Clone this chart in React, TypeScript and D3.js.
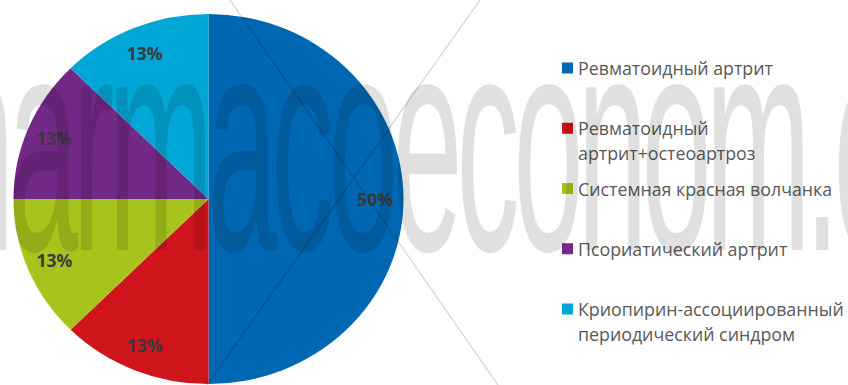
import React from "react";
import * as d3 from "d3";

// Patient counts by diagnosis
const categories = [
  "Ревматоидный артрит",
  "Ревматоидный артрит+остеоартроз",
  "Системная красная волчанка",
  "Псориатический артрит",
  "Криопирин-ассоциированный периодический синдром",
];
const counts = [4, 1, 1, 1, 1];
const legendLines = [
  ["Ревматоидный артрит"],
  ["Ревматоидный", "артрит+остеоартроз"],
  ["Системная красная волчанка"],
  ["Псориатический артрит"],
  ["Криопирин-ассоциированный", "периодический синдром"],
];
const colors = ["#0067B2", "#D0141C", "#A6C41B", "#722886", "#00A6D6"];
const watermarkText = "pharmacoeconom.com";

const W = 848;
const H = 385;

export default function App() {
  const cx = 208.5;
  const cy = 199;
  const R = 195;
  const sy = 185 / 195;

  const total = d3.sum(counts);
  const pie = d3
    .pie<number>()
    .sort(null)
    .value((d) => d)
    .startAngle(0)
    .endAngle(2 * Math.PI);
  const arcs = pie(counts);
  const arc = d3.arc<d3.PieArcDatum<number>>().innerRadius(0).outerRadius(R);
  const labelArc = d3
    .arc<d3.PieArcDatum<number>>()
    .innerRadius(R * 0.855)
    .outerRadius(R * 0.855);
  const fmt = d3.format(".0%");

  const legendX = 562;
  const legendY0 = 68;
  const legendStep = 60.25;
  const lineH = 25;

  return (
    <svg
      width={W}
      height={H}
      viewBox={`0 0 ${W} ${H}`}
      style={{ position: "absolute", left: 0, top: 0, background: "#fff" }}
    >
      <rect width={W} height={H} fill="#fff" />
      <g transform={`translate(${cx},${cy}) scale(1,${sy})`}>
        {arcs.map((a, i) => (
          <path key={categories[i]} d={arc(a) || ""} fill={colors[i]} />
        ))}
      </g>
      {arcs.map((a, i) => {
        const [lx, ly] = labelArc.centroid(a);
        return (
          <text
            key={"l" + i}
            x={cx + lx}
            y={cy + ly * sy}
            textAnchor="middle"
            dominantBaseline="central"
            fontFamily="'Open Sans', sans-serif"
            fontWeight={700}
            fontSize={17.5}
            fill="#3a3a3a"
          >
            {fmt(Math.round((a.data / total) * 100) / 100)}
          </text>
        );
      })}
      {legendLines.map((lines, i) => {
        const y = legendY0 + i * legendStep;
        return (
          <g key={"g" + i}>
            <rect x={legendX} y={y - 5.5} width={11} height={11} fill={colors[i]} />
            {lines.map((t, j) => (
              <text
                key={j}
                x={legendX + 16}
                y={y + j * lineH}
                dominantBaseline="central"
                fontFamily="'Open Sans', sans-serif"
                fontSize={17.8}
                fill="#595959"
              >
                {t}
              </text>
            ))}
          </g>
        );
      })}
      {/* watermark overlay */}
      <g style={{ pointerEvents: "none" }}>
        <text
          transform={`translate(-120,250) scale(0.41,1)`}
          fontFamily="'Liberation Sans', Arial, sans-serif"
          fontSize={308}
          letterSpacing={-15}
          fill="#000"
          fillOpacity={0.12}
        >
          {watermarkText}
        </text>
        <line x1={230} y1={0} x2={498} y2={385} stroke="#000" strokeOpacity={0.15} strokeWidth={1.4} />
        <line x1={480} y1={0} x2={207} y2={385} stroke="#000" strokeOpacity={0.15} strokeWidth={1.4} />
      </g>
    </svg>
  );
}
